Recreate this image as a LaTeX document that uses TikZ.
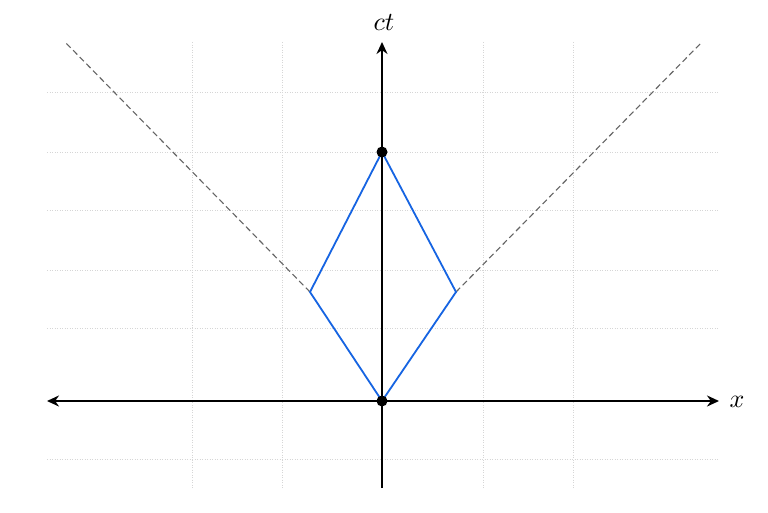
\documentclass[tikz,border=0pt]{standalone}
\usetikzlibrary{arrows.meta}
\definecolor{evblue}{RGB}{22,100,226}
\definecolor{gridgray}{RGB}{214,214,214}
\definecolor{conegray}{RGB}{100,100,100}
\begin{document}
\begin{tikzpicture}[x=1pt,y=-1pt,
  gridline/.style={gridgray,line width=0.8pt,dash pattern=on 1pt off 1.5pt},
  axisline/.style={black,line width=2pt,-{Stealth[length=12pt,width=11pt]}},
  worldline/.style={evblue,line width=1.8pt,line join=miter},
  lightray/.style={conegray,line width=1.1pt,dash pattern=on 6pt off 3.5pt},
  eventdot/.style={circle,fill=black,inner sep=0pt,minimum size=11pt},
  axislabel/.style={inner sep=0pt}]
\useasboundingbox (0,0) rectangle (768,512);
\fill[white] (0,0) rectangle (768,512);
% grid
\foreach \yy in {92,152,210,270,328,459}
  \draw[gridline] (47,\yy) -- (719,\yy);
\foreach \xx in {192,282,483,573}
  \draw[gridline] (\xx,42) -- (\xx,488);
% coordinates
\coordinate (O) at (382,401);
\coordinate (E) at (382,152);
\coordinate (L) at (310,292);
\coordinate (R) at (456,292);
\coordinate (xl) at (47,401);
\coordinate (xr) at (719,401);
\coordinate (yb) at (382,488);
\coordinate (yt) at (382,42);
\coordinate (LL) at (65,42);
\coordinate (RR) at (702,42);
% light rays
\draw[lightray] (L) -- (LL);
\draw[lightray] (R) -- (RR);
% axes
\draw[axisline,{Stealth[length=12pt,width=11pt]}-{Stealth[length=12pt,width=11pt]}] (xl) -- (xr);
\draw[axisline] (yb) -- (yt);
\node[axislabel] (ct) at (384,23) {\scalebox{2.6}{$ct$}};
\node[axislabel] (xlab) at (737,402) {\scalebox{2.6}{$x$}};
% world lines
\draw[worldline] (O) -- (L) -- (E) -- (R) -- cycle;
% events
\node[eventdot] (o) at (O) {};
\node[eventdot] (e) at (E) {};
\end{tikzpicture}
\end{document}
